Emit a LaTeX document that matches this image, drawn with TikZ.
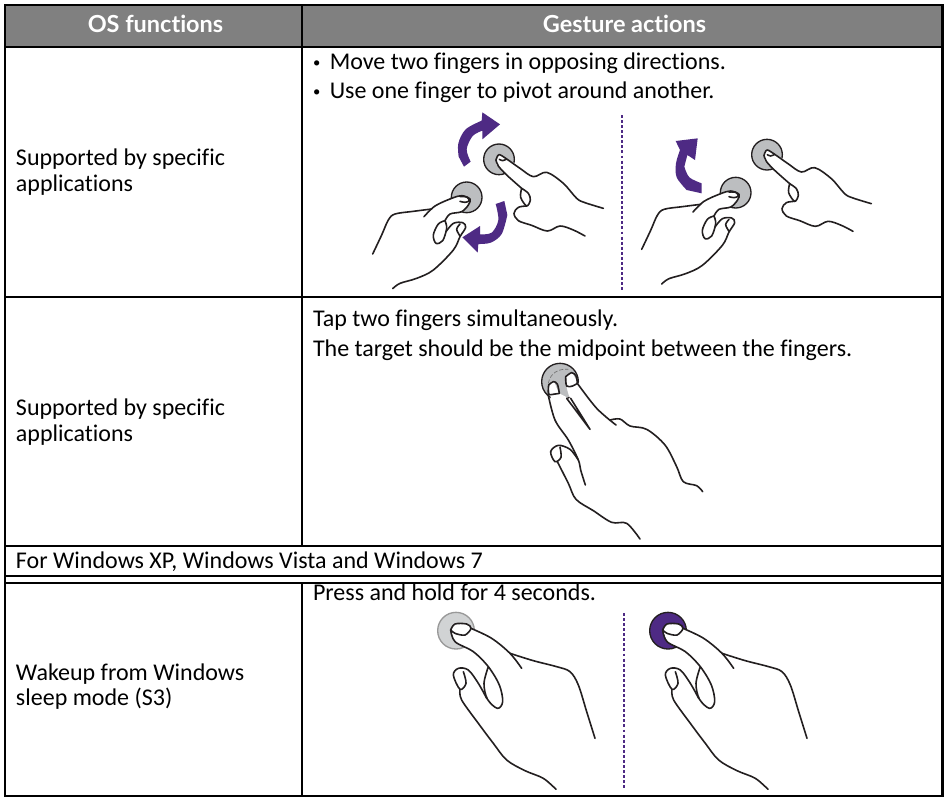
\documentclass[tikz,border=0pt]{standalone}
\usepackage{fontspec}
\setmainfont{Carlito}[RawFeature={-liga;-clig;-dlig}]
\newfontfamily\headfont{Lato}[RawFeature={-liga;-clig;-dlig}]
\definecolor{headgray}{HTML}{808080}
\definecolor{gpurple}{HTML}{4E2A84}
\definecolor{dotgray}{HTML}{BCBEC0}
\definecolor{lightdot}{HTML}{D1D3D4}
\definecolor{inkline}{HTML}{231F20}
\newcommand{\minibullet}{\makebox[12.6pt][l]{\raisebox{1.2pt}{\fontsize{11pt}{11pt}\selectfont •}}}
\tikzset{
 rule/.style={line width=1.6pt,black},
 ink/.style={line width=1.2pt,inkline,line cap=round,line join=round},
 curve/.style={smooth,tension=.55},
 body/.style={anchor=base west,inner sep=0pt,outer sep=0pt,font=\fontsize{18pt}{20pt}\selectfont,text=black},
 head/.style={anchor=base,inner sep=0pt,outer sep=0pt,font=\headfont\bfseries\fontsize{17.6pt}{20pt}\selectfont,text=white},
 touch/.style={fill=dotgray,draw=inkline,line width=1pt},
 turn/.style={fill=gpurple,draw=none},
 divider/.style={gpurple,line width=1.4pt,dash pattern=on 2.2pt off 1.6pt},
}
% lower-left hand with its touch point (coordinates of a 1/3 px grid)
\newcommand{\handleft}{%
 \draw[touch] (350,292) circle[radius=46];
 \fill[white] plot[curve] coordinates {(305,296)(330,288)(362,298)(355,318)(335,335)(300,342)} -- (260,340) -- cycle;
 \draw[ink] plot[curve] coordinates {(68,462)(95,405)(115,360)(135,342)(190,334)(245,327)};
 \draw[ink] plot[curve] coordinates {(222,350)(255,318)(305,295)(335,287)(360,297)(355,315)(335,335)(300,342)(285,362)};
 \draw[ink] plot[curve] coordinates {(330,290)(350,291)(358,302)(345,307)(330,304)};
 \draw[ink] plot[curve] coordinates {(285,362)(265,372)(250,405)(258,430)(278,422)(290,385)(285,362)};
 \draw[ink] plot[curve] coordinates {(288,395)(310,370)(338,368)(347,382)(330,410)(310,450)(250,510)(200,535)(150,550)(128,566)};
 \draw[ink] plot[curve] coordinates {(330,372)(320,388)(330,408)};
}
% upper-right hand with its touch point
\newcommand{\handright}{%
 \draw[touch] (447,178) circle[radius=46];
 \fill[white] plot[curve] coordinates {(437,178)(447,163)(470,178)(505,200)(520,260)(470,225)(440,195)} -- cycle;
 \draw[ink] plot[curve] coordinates {(438,180)(447,164)(470,177)(510,205)(550,230)(590,217)(640,250)(680,295)(705,308)(760,325)};
 \draw[ink] plot[curve] coordinates {(438,180)(445,198)(470,225)(515,265)};
 \draw[ink] plot[curve] coordinates {(448,178)(458,182)(470,177)};
 \draw[ink] plot[curve] coordinates {(515,265)(512,292)(530,318)(541,300)(535,280)(515,265)};
 \draw[ink] plot[curve] coordinates {(530,318)(505,322)(492,340)(505,362)(545,376)(592,393)(630,378)(670,390)(705,408)};
}
% hand pressing, used twice in the last row
\newcommand{\handpress}[1]{%
 \draw[#1] (138,92) circle[radius=55];
 \fill[white] plot[curve] coordinates {(122,90)(135,72)(170,72)(183,85)(245,115)(250,200)(190,155)(135,125)} -- cycle;
 \draw[ink] plot[curve] coordinates {(122,90)(135,72)(170,72)(183,85)(165,105)(135,100)(122,90)};
 \draw[ink] plot[curve] coordinates {(183,85)(245,115)(300,160)(335,205)};
 \draw[ink] plot[curve] coordinates {(300,160)(370,182)(440,200)(480,215)(505,255)(530,335)(555,415)};
 \draw[ink] plot[curve] coordinates {(122,90)(135,125)(190,155)(235,200)(268,255)(278,305)(262,325)(232,297)(222,250)(235,200)};
 \draw[ink] plot[curve] coordinates {(230,295)(205,250)(175,210)(145,205)(130,225)(150,268)(168,250)(160,215)};
 \draw[ink] plot[curve] coordinates {(150,268)(155,300)(205,370)(250,430)(290,480)(345,512)(400,535)(438,568)};
}
\begin{document}
\begin{tikzpicture}[x=0.75pt,y=-0.75pt]
\useasboundingbox (0,0) rectangle (944,797);
\fill[white] (0,0) rectangle (944,797);
% header
\fill[headgray] (5,5) rectangle (942.5,47);
\draw[rule] (5,5) -- (942.5,5);
\draw[rule] (5,47) -- (942.5,47);
\draw[rule] (5,297) -- (942.5,297);
\draw[rule] (5,545.7) -- (942.5,545.7);
\draw[rule] (5,575.7) -- (942.5,575.7);
\draw[rule] (5,582.7) -- (942.5,582.7);
\draw[rule] (5,796) -- (942.5,796);
\draw[rule] (5,4.3) -- (5,796.7);
\draw[rule] (942.5,4.3) -- (942.5,796.7);
\draw[rule] (302,5) -- (302,545.7);
\draw[rule] (302,582.7) -- (302,796);
% texts
\node[head] (h1) at (155.5,32) {OS functions};
\node[head] (h2) at (624.5,32) {Gesture actions};
\node[body] (a1) at (16,165) {Supported by specific};
\node[body] (a2) at (16,191) {applications};
\node[body] (b1) at (16,415) {Supported by specific};
\node[body] (b2) at (16,441) {applications};
\node[body] (c0) at (16,568) {For Windows XP, Windows Vista and Windows 7};
\node[body] (d1) at (16,680) {Wakeup from Windows};
\node[body] (d2) at (16,705) {sleep mode (S3)};
\node[body] (r1) at (313,69) {\minibullet Move two fingers in opposing directions.};
\node[body] (r2) at (313,98) {\minibullet Use one finger to pivot around another.};
\node[body] (r3) at (313,326) {Tap two fingers simultaneously.};
\node[body] (r4) at (313,356) {The target should be the midpoint between the fingers.};
\node[body] (r5) at (313,600) {Press and hold for 4 seconds.};
% row 1, left pair
\begin{scope}[shift={(350,100)},x=.25pt,y=-.25pt]
 \handleft
 \handright
 \fill[turn] (342,200) -- plot[curve] coordinates {(326,170)(325,130)(347,88)(395,62)} -- (397,37) -- (450,73) -- (397,118) -- plot[curve] coordinates {(397,92)(368,108)(350,148)(362,185)} -- cycle;
 \fill[turn] (463,303) -- plot[curve] coordinates {(472,345)(455,402)(422,428)(385,432)} -- (383,458) -- (337,412) -- (390,378) -- plot[curve] coordinates {(390,403)(425,398)(445,360)(437,312)} -- cycle;
\end{scope}
\draw[divider] (621.7,115) -- (621.7,291);
% row 1, right pair
\begin{scope}[shift={(619,95.33)},x=.25pt,y=-.25pt]
 \handleft
\end{scope}
\begin{scope}[shift={(618,95.33)},x=.25pt,y=-.25pt]
 \handright
\end{scope}
\begin{scope}[shift={(630,100)},x=.25pt,y=-.25pt]
 \fill[turn] (137,123) -- (203,115) -- (195,180) -- (172,165) -- plot[curve] coordinates {(163,200)(178,232)(215,250)} -- (215,280) -- plot[curve] coordinates {(170,270)(140,232)(138,190)(150,150)} -- cycle;
\end{scope}
% row 2 hand
\begin{scope}[shift={(500,370)},x=.25pt,y=-.25pt]
 \draw[touch] (180,35) circle[radius=55];
 \draw[white!45!black,line width=.5pt,dash pattern=on 3pt off 1.5pt] (145,40) .. controls (150,10) and (175,-5) .. (205,-2);
 \fill[white] plot[curve] coordinates {(145,45)(160,33)(178,70)(205,88)(270,178)(205,210)(165,150)} -- cycle;
 \fill[white] plot[curve] coordinates {(197,20)(215,8)(232,35)(290,115)(270,178)(212,88)(200,48)} -- cycle;
 \draw[ink] plot[curve] coordinates {(146,45)(160,35)(172,42)(178,70)};
 \draw[ink] plot[curve] coordinates {(146,45)(146,72)(165,72)(178,70)};
 \draw[ink] plot[curve] coordinates {(197,20)(215,8)(228,18)(232,40)};
 \draw[ink] plot[curve] coordinates {(197,20)(200,48)(218,48)(232,40)};
 \draw[ink] plot[curve] coordinates {(144,72)(165,150)(205,210)(235,270)(242,300)(256,345)};
 \draw[ink] (200,85) -- (270,178) -- (212,85);
 \draw[ink] plot[curve] coordinates {(232,40)(290,115)(348,165)};
 \draw[ink] plot[curve] coordinates {(330,150)(360,147)(390,168)(440,178)(495,225)(530,290)(550,335)(590,347)(608,365)};
 \draw[ink] plot[curve] coordinates {(235,270)(210,238)(175,226)(152,245)(165,275)(183,262)(180,232)};
 \draw[ink] plot[curve] coordinates {(172,275)(205,340)(228,388)(280,422)(335,457)(380,460)(420,507)};
\end{scope}
% row 3 hands
\draw[divider] (623.7,613) -- (623.7,789);
\begin{scope}[shift={(410,600)},x=.25pt,y=-.25pt]
 \handpress{fill=lightdot,draw=gray!80,line width=1pt}
\end{scope}
\begin{scope}[shift={(622,600)},x=.25pt,y=-.25pt]
 \handpress{fill=gpurple,draw=inkline,line width=1pt}
\end{scope}
\end{tikzpicture}
\end{document}
